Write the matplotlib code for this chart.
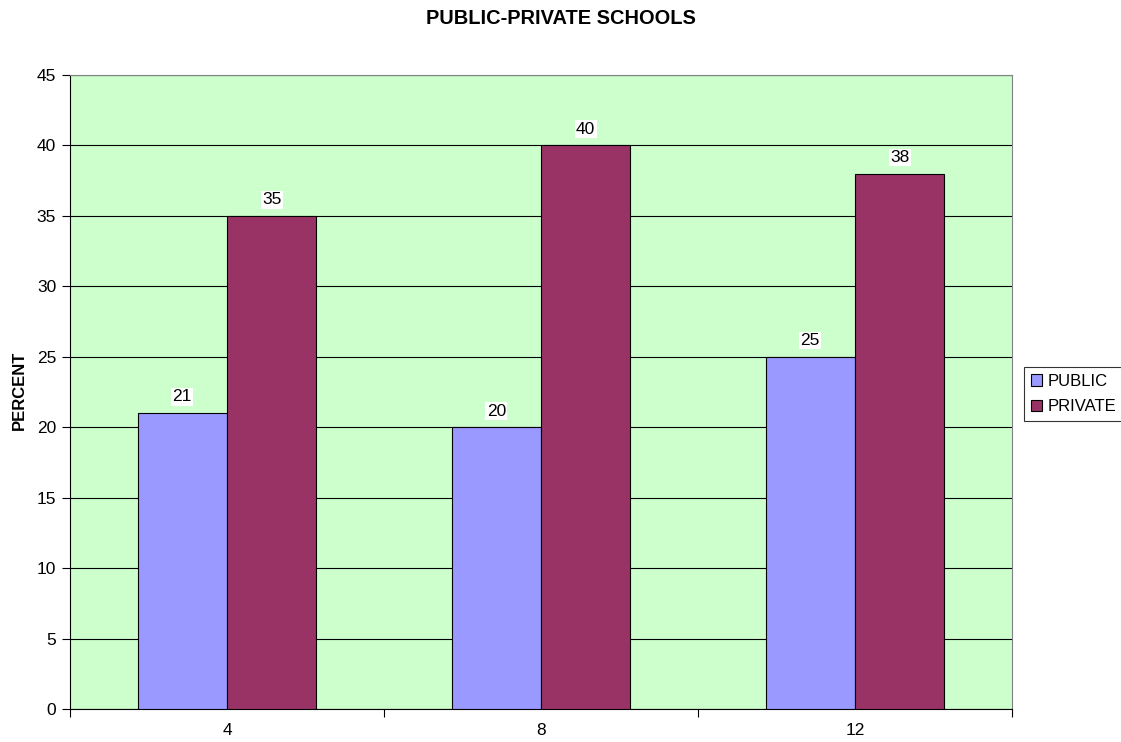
import matplotlib
matplotlib.use("Agg")
import matplotlib.pyplot as plt
import numpy as np

categories = ["4", "8", "12"]
public = [21, 20, 25]
private = [35, 40, 38]
series_names = ["PUBLIC", "PRIVATE"]

plt.rcParams['font.family'] = ['Liberation Sans', 'DejaVu Sans']

fig = plt.figure(figsize=(11.21, 7.42), dpi=100)
ax = fig.add_axes([70/1121, 1-709/742, (1012-70)/1121, (709-75)/742])
ax.set_facecolor("#CCFFCC")

x = np.arange(len(categories))
w = 0.285
b1 = ax.bar(x - w/2, public, w, color="#9999FF", edgecolor="black", linewidth=0.8, label=series_names[0], zorder=3)
b2 = ax.bar(x + w/2, private, w, color="#993366", edgecolor="black", linewidth=0.8, label=series_names[1], zorder=3)

for bars, vals in ((b1, public), (b2, private)):
    for r, v in zip(bars, vals):
        ax.text(r.get_x() + r.get_width()/2, v + 1.15, str(v), ha="center", va="center",
                fontsize=12.5, bbox=dict(facecolor="white", edgecolor="none", pad=1), zorder=4)

ax.set_xlim(-0.5, len(categories) - 0.5)
ax.set_ylim(0, 45)
ax.set_yticks(np.arange(0, 46, 5))
ax.yaxis.grid(True, color="black", linewidth=0.8, zorder=0)
ax.set_axisbelow(True)
ax.set_xticks(x)
ax.set_xticklabels(categories, fontsize=12.5)
ax.set_xticks(np.arange(-0.5, len(categories), 1), minor=True)
ax.tick_params(axis="x", which="major", length=0, pad=10)
ax.tick_params(axis="x", which="minor", length=6, direction="out", width=0.8)
ax.tick_params(axis="y", length=6, direction="out", labelsize=12.5, width=0.8, pad=4)
for s in ["top", "right"]:
    ax.spines[s].set_color("#808080")
    ax.spines[s].set_linewidth(0.8)
for s in ["left", "bottom"]:
    ax.spines[s].set_color("black")
    ax.spines[s].set_linewidth(0.8)

fig.text(19/1121, 1 - 390/742, "PERCENT", rotation=90, ha="center", va="center",
         fontsize=12, fontweight="bold")
fig.text(561/1121, 1 - 18/742, "PUBLIC-PRIVATE SCHOOLS", ha="center", va="center",
         fontsize=14.4, fontweight="bold")

leg = fig.legend(handles=[b1, b2], labels=series_names, loc="center left",
                 bbox_to_anchor=(1024/1121, 1 - 394/742), frameon=True, fancybox=False,
                 edgecolor="black", fontsize=12, handlelength=0.7, handleheight=0.7,
                 handletextpad=0.3, borderpad=0.4, labelspacing=0.65, borderaxespad=0)
leg.get_frame().set_linewidth(0.8)

fig.savefig("out.png", dpi=100)
